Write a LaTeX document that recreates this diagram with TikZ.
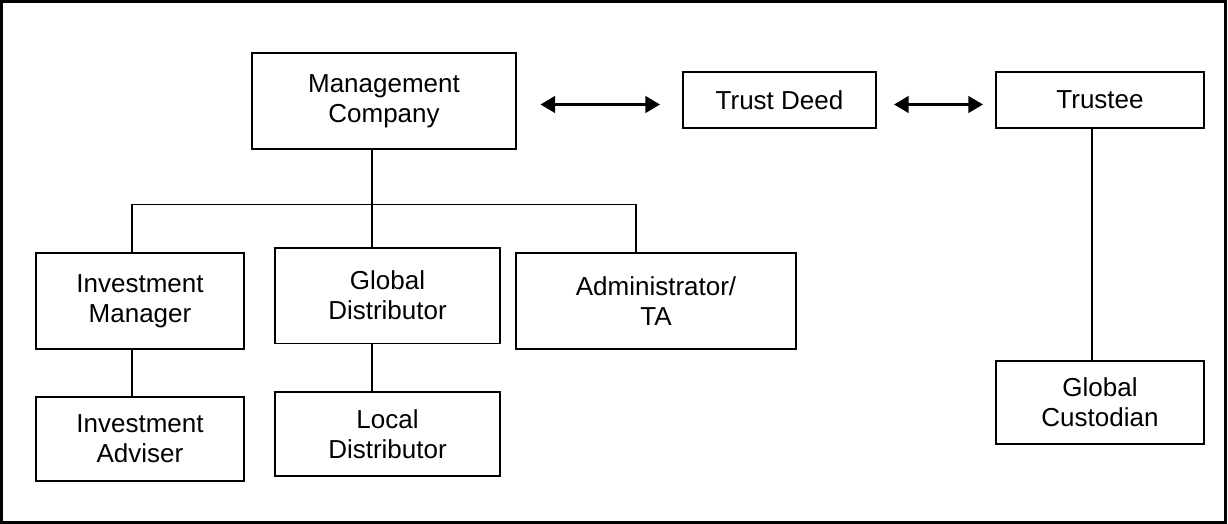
\documentclass[tikz,border=0pt]{standalone}
\usepackage{fontspec}
\setmainfont{Liberation Sans}
\usetikzlibrary{arrows.meta}
\begin{document}
\begin{tikzpicture}[x=0.75pt,y=-0.75pt,
  box/.style={draw, line width=1.4pt, inner sep=0pt, outer sep=0pt, align=center,
    font={\fontsize{19.5pt}{22.5pt}\selectfont}},
  link/.style={line width=1.4pt},
  dbl/.style={line width=1.8pt, {Triangle[length=11pt,width=12.5pt]}-{Triangle[length=11pt,width=12.5pt]}}]
\useasboundingbox (0,0) rectangle (1228,524);
\draw[line width=1.6pt] (1.5,1.5) rectangle (1225.5,522.5);
% boxes (centre, width x height in px -> pt)
\node[box, minimum width=198pt, minimum height=72pt] (mc) at (384,101) {Management\\Company};
\node[box, minimum width=144.75pt, minimum height=42pt] (td) at (779.5,100) {Trust Deed};
\node[box, minimum width=156pt, minimum height=42pt] (tr) at (1100,100) {Trustee};
\node[box, minimum width=156pt, minimum height=72pt] (im) at (140,301) {Investment\\Manager};
\node[box, minimum width=168.75pt, minimum height=71.6pt] (gd) at (387.5,295.7) {Global\\Distributor};
\node[box, minimum width=210pt, minimum height=72pt] (ad) at (656,301) {Administrator/\\TA};
\node[box, minimum width=156pt, minimum height=63pt] (ia) at (140,439) {Investment\\Adviser};
\node[box, minimum width=168.75pt, minimum height=63pt] (ld) at (387.5,434) {Local\\Distributor};
\node[box, minimum width=156pt, minimum height=62.25pt] (gc) at (1100,402.5) {Global\\Custodian};
% branch points
\coordinate (hub) at (372,204.5);
\coordinate (bim) at (132,204.5);
\coordinate (bad) at (636,204.5);
\coordinate (btr) at (1092,0);
% tree connectors
\draw[link] (hub |- mc.south) -- (hub |- gd.north);
\draw[link] (bim |- im.north) -- (bim) -- (bad) -- (bad |- ad.north);
\draw[link] (bim |- im.south) -- (bim |- ia.north);
\draw[link] (hub |- gd.south) -- (hub |- ld.north);
\draw[link] (btr |- tr.south) -- (btr |- gc.north);
% double arrows
\coordinate (a1) at (540.5,104.5);
\coordinate (a2) at (660,104.5);
\coordinate (a3) at (894,104.5);
\coordinate (a4) at (983,104.5);
\draw[dbl] (a1) -- (a2);
\draw[dbl] (a3) -- (a4);
\end{tikzpicture}
\end{document}
